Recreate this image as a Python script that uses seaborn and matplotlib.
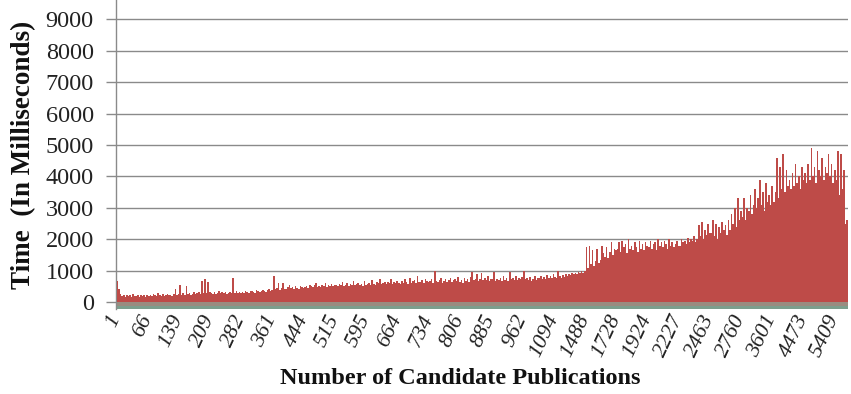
import numpy as np
import pandas as pd
import matplotlib
matplotlib.use("Agg")
import matplotlib.pyplot as plt
import seaborn as sns

# Tick labels shown on the category axis (every 20th category)
tick_labels = ["1", "66", "139", "209", "282", "361", "444", "515", "595", "664",
               "734", "806", "885", "962", "1094", "1488", "1728", "1924", "2227",
               "2463", "2760", "3601", "4473", "5409"]

# Time (ms) per candidate-publication category
times_ms = [
    680, 420, 260, 180, 220, 160, 240, 190, 210, 170, 250, 200, 180, 230, 160, 210, 190, 240, 170, 220,
    200, 240, 180, 260, 210, 190, 280, 220, 200, 250, 190, 230, 270, 210, 240, 200, 260, 420, 230, 250,
    550, 240, 280, 220, 500, 260, 300, 240, 270, 310, 250, 290, 330, 260, 680, 300, 720, 280, 650, 310,
    300, 270, 320, 260, 300, 340, 280, 310, 290, 330, 270, 300, 320, 280, 760, 300, 340, 290, 310, 280,
    330, 300, 350, 310, 290, 340, 360, 320, 300, 380, 340, 320, 360, 400, 350, 330, 380, 420, 360, 400,
    830, 420, 460, 600, 400, 450, 620, 430, 410, 480, 560, 440, 470, 420, 500, 450, 430, 520, 480, 460,
    480, 520, 460, 560, 500, 470, 540, 600, 490, 520, 470, 560, 510, 620, 480, 540, 500, 570, 520, 550,
    540, 500, 580, 530, 640, 510, 560, 600, 520, 580, 540, 660, 530, 570, 610, 540, 590, 520, 680, 560,
    580, 620, 540, 700, 590, 560, 640, 600, 720, 570, 610, 650, 580, 630, 600, 740, 590, 640, 610, 660,
    620, 580, 680, 600, 720, 640, 590, 760, 620, 660, 700, 610, 820, 650, 630, 690, 600, 740, 660, 640,
    680, 720, 620, 980, 660, 640, 700, 760, 610, 680, 740, 650, 700, 780, 640, 690, 720, 660, 800, 650,
    700, 620, 760, 680, 720, 650, 800, 960, 700, 740, 900, 680, 720, 940, 690, 760, 710, 820, 680, 750,
    720, 960, 680, 740, 700, 780, 660, 820, 700, 760, 680, 950, 720, 780, 700, 840, 690, 760, 730, 800,
    980, 720, 760, 700, 800, 680, 740, 820, 700, 780, 760, 840, 720, 800, 750, 860, 780, 820, 760, 880,
    800, 760, 1000, 820, 780, 860, 800, 880, 840, 900, 860, 920, 880, 940, 900, 960, 920, 980, 940, 1000,
    1750, 1100, 1800, 1200, 1650, 1150, 1300, 1700, 1250, 1350, 1800, 1550, 1450, 1750, 1400, 1600, 1900, 1500, 1700, 1650,
    1700, 1900, 1600, 1950, 1750, 1850, 1550, 2000, 1700, 1800, 1650, 1900, 1750, 1600, 1950, 1700, 1850, 1650, 1900, 1800,
    1750, 1950, 1700, 1850, 1900, 1650, 2000, 1800, 1900, 1750, 1950, 1850, 1700, 2000, 1800, 1900, 1750, 1850, 1950, 1800,
    1800, 2000, 1900, 1950, 1850, 2050, 1900, 2000, 1950, 2100, 1900, 2000, 2450, 2100, 2550, 2000, 2300, 2150, 2500, 2200,
    2200, 2600, 2100, 2500, 2000, 2400, 2200, 2550, 2300, 2450, 2150, 2600, 2300, 2800, 2500, 3000, 2400, 3300, 2600, 2900,
    2700, 3300, 2600, 3000, 2900, 3400, 2800, 3100, 3600, 3000, 3300, 3900, 3100, 3500, 2900, 3800, 3200, 3400, 3100, 3700,
    3200, 3500, 4600, 3300, 4300, 3600, 4700, 3500, 4200, 3700, 3900, 3600, 4100, 3700, 4400, 3800, 4000, 3600, 4300, 3900,
    4100, 3800, 4400, 3900, 4900, 4000, 4300, 3800, 4800, 4200, 4000, 4600, 3900, 4300, 4100, 4700, 4000, 4400, 3800, 4200,
    3900, 4800, 3400, 4700, 3600, 4200, 2500, 2600,
]
label_every = 20

df = pd.DataFrame({"cat": np.arange(len(times_ms)), "time": times_ms})

sns.set_theme(style="white")
plt.rcParams["font.family"] = ["Liberation Serif", "DejaVu Serif"]

fig = plt.figure(figsize=(8.51, 3.94), dpi=100)
ax = fig.add_axes([116 / 851, 1 - 309 / 394, (848 - 116) / 851, 309 / 394])

sns.barplot(data=df, x="cat", y="time", color="#BE4B48", saturation=1,
            width=1.0, linewidth=0, edgecolor="none", ax=ax, zorder=3)

n = len(times_ms)
ax.set_xlim(-0.5, n - 0.5)
ax.set_ylim(-220, 9620)

# floor band under the columns
ax.axhspan(-110, 0, color="#9a8c80", zorder=2, lw=0)
ax.axhspan(-220, -110, color="#7c9f8d", zorder=2, lw=0)

ax.set_yticks(range(0, 10000, 1000))
ax.set_yticklabels([str(v) for v in range(0, 10000, 1000)], fontsize=17.5, color="#222222")
for v in range(1000, 10000, 1000):
    ax.axhline(v, color="#8a8a8a", lw=1.0, zorder=1)

# label anchors nudged slightly left so the rotated text ends at its category
ax.set_xticks([i * label_every - 1 for i in range(len(tick_labels))])
ax.set_xticklabels(tick_labels, rotation=65, ha="right", va="center",
                   rotation_mode="anchor", fontsize=16, style="italic", color="#222222")
ax.tick_params(axis="x", length=0, pad=5)
ax.tick_params(axis="y", length=7, width=1, color="#8a8a8a", direction="out", pad=9, left=True)

for s in ["top", "right", "bottom"]:
    ax.spines[s].set_visible(False)
ax.spines["left"].set_color("#8a8a8a")
ax.spines["left"].set_linewidth(1.0)

ax.set_xlabel("Number of Candidate Publications", fontsize=17.5, fontweight="bold",
              color="#111111")
ax.xaxis.set_label_coords((460 - 116) / 732, -(368 - 309) / 309)
ax.set_ylabel("Time  (In Milliseconds)", fontsize=19.5, fontweight="bold",
              color="#111111")
ax.yaxis.set_label_coords(-(116 - 36) / 732, (309 - 155) / 309)

fig.savefig("out.png", dpi=100)
